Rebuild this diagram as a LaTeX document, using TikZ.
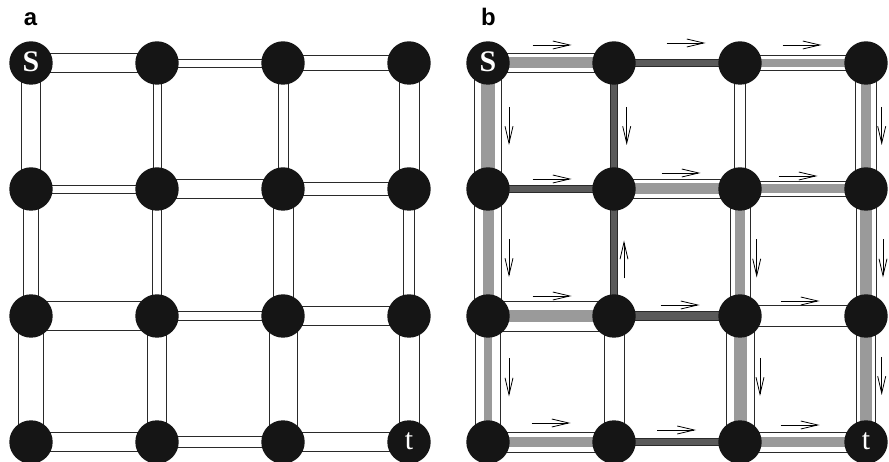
\documentclass[tikz,border=0pt]{standalone}
\usepackage{fontspec}
\setmainfont{Liberation Serif}
\newfontfamily\labfont{Liberation Sans}
\usetikzlibrary{arrows.meta,calc}
\pgfdeclarelayer{bg}
\pgfdeclarelayer{mid}
\pgfsetlayers{bg,mid,main}
\definecolor{nodefill}{HTML}{151515}
\definecolor{flowgray}{HTML}{9A9A9A}
\definecolor{satgray}{HTML}{5A5A5A}
\definecolor{edgeline}{HTML}{2A2A2A}
% pipes as outlined rectangles between node centres
\newcommand\HPipe[4][white]{\draw[pipebox, fill=#1] ($(#2)+(0,-#4/2)$) rectangle ($(#3)+(0,#4/2)$);}
\newcommand\VPipe[4][white]{\draw[pipebox, fill=#1] ($(#2)+(-#4/2,0)$) rectangle ($(#3)+(#4/2,0)$);}
\newcommand\HFlow[3]{\fill[flowgray] ($(#1)+(0,-#3/2)$) rectangle ($(#2)+(0,#3/2)$);}
\newcommand\VFlow[3]{\fill[flowgray] ($(#1)+(-#3/2,0)$) rectangle ($(#2)+(#3/2,0)$);}
\newcommand\HArr[4]{\draw[farrow] ($(#1)!0.5!(#2)+(#3-19.5,#4)$) -- ++(39,0);}
\newcommand\VArrD[4]{\draw[farrow] ($(#1)!0.5!(#2)+(#3,#4-19)$) -- ++(0,38);}
\newcommand\VArrU[4]{\draw[farrow] ($(#1)!0.5!(#2)+(#3,#4+19)$) -- ++(0,-38);}
\begin{document}
\begin{tikzpicture}[x=1bp,y=-1bp,
  vert/.style={circle, fill=nodefill, draw=none, minimum size=43.4bp, inner sep=0pt, text=white},
  pipebox/.style={draw=edgeline, line width=0.9bp},
  farrow/.style={line width=0.8bp, draw=black, -{Straight Barb[length=17bp,width=8bp]}},
  vlabel/.style={text=white, inner sep=0pt},
  panellabel/.style={anchor=base, font=\labfont\bfseries\fontsize{24}{24}\selectfont, inner sep=0pt}]
\useasboundingbox (0,0) rectangle (889,462);
\clip (0,0) rectangle (889,462);

% panel labels
\node[panellabel] (la) at (30.5,26) {a};
\node[panellabel] (lb) at (488.5,26) {b};

% vertices, panel a
\foreach \cc/\xx in {1/31,2/157,3/283,4/409}{
  \foreach \rr/\yy in {1/63,2/189,3/316,4/442}{
    \node[vert] (a\rr\cc) at (\xx,\yy) {};
  }
}
% vertices, panel b
\foreach \cc/\xx in {1/488,2/614,3/740,4/866}{
  \foreach \rr/\yy in {1/63,2/189,3/316,4/442}{
    \node[vert] (b\rr\cc) at (\xx,\yy) {};
  }
}
\node[vlabel, font=\bfseries\fontsize{30}{30}\selectfont] (sa) at ([yshift=1bp]a11) {S};
\node[vlabel, font=\bfseries\fontsize{30}{30}\selectfont] (sb) at ([yshift=1bp]b11) {S};
\node[vlabel, font=\fontsize{30}{30}\selectfont] (ta) at ([yshift=1bp]a44) {t};
\node[vlabel, font=\fontsize{30}{30}\selectfont] (tb) at ([yshift=1bp]b44) {t};

\begin{pgfonlayer}{bg}
% ---------- panel a pipes ----------
\HPipe{a11}{a12}{19.5}
\HPipe{a12}{a13}{8}
\HPipe{a13}{a14}{15}
\HPipe{a21}{a22}{8}
\HPipe{a22}{a23}{19.3}
\HPipe{a23}{a24}{13}
\HPipe{a31}{a32}{29}
\HPipe{a32}{a33}{9}
\HPipe{a33}{a34}{19.3}
\HPipe{a41}{a42}{19.3}
\HPipe{a42}{a43}{10.7}
\HPipe{a43}{a44}{19.3}
\VPipe{a11}{a21}{19}
\VPipe{a21}{a31}{15}
\VPipe{a31}{a41}{25}
\VPipe{a12}{a22}{8}
\VPipe{a22}{a32}{8.7}
\VPipe{a32}{a42}{19.3}
\VPipe{a13}{a23}{10}
\VPipe{a23}{a33}{20}
\VPipe{a33}{a43}{28}
\VPipe{a14}{a24}{20}
\VPipe{a24}{a34}{11.7}
\VPipe{a34}{a44}{20}
% ---------- panel b pipes ----------
\HPipe{b11}{b12}{19.7}
\HPipe[satgray]{b12}{b13}{7.5}
\HPipe{b13}{b14}{15.7}
\HPipe[satgray]{b21}{b22}{6.5}
\HPipe{b22}{b23}{19}
\HPipe{b23}{b24}{14.3}
\HPipe{b31}{b32}{30}
\HPipe[satgray]{b32}{b33}{8.3}
\HPipe{b33}{b34}{20.7}
\HPipe{b41}{b42}{20}
\HPipe[satgray]{b42}{b43}{7.3}
\HPipe{b43}{b44}{20}
\VPipe{b11}{b21}{27}
\VPipe{b21}{b31}{27}
\VPipe{b31}{b41}{25}
\VPipe[satgray]{b12}{b22}{6.3}
\VPipe[satgray]{b22}{b32}{6.3}
\VPipe{b32}{b42}{20}
\VPipe{b13}{b23}{11.7}
\VPipe{b23}{b33}{20}
\VPipe{b33}{b43}{28}
\VPipe{b14}{b24}{20.3}
\VPipe{b24}{b34}{20}
\VPipe{b34}{b44}{19.3}
\end{pgfonlayer}
\begin{pgfonlayer}{mid}
% flow bands
\HFlow{b11}{b12}{11}
\HFlow{b13}{b14}{8.3}
\HFlow{b22}{b23}{11}
\HFlow{b23}{b24}{9}
\HFlow{b31}{b32}{11.7}
\HFlow{b41}{b42}{9.3}
\HFlow{b43}{b44}{10.7}
\VFlow{b11}{b21}{14}
\VFlow{b21}{b31}{11}
\VFlow{b31}{b41}{8}
\VFlow{b23}{b33}{9.3}
\VFlow{b33}{b43}{13}
\VFlow{b14}{b24}{9.3}
\VFlow{b24}{b34}{11.7}
\VFlow{b34}{b44}{12}
\end{pgfonlayer}

% ---------- flow direction arrows ----------
\HArr{b11}{b12}{1}{-18}
\HArr{b12}{b13}{9}{-20}
\HArr{b13}{b14}{-1}{-18}
\HArr{b21}{b22}{1}{-10}
\HArr{b22}{b23}{4}{-16}
\HArr{b23}{b24}{-5}{-13}
\HArr{b31}{b32}{1}{-20}
\HArr{b32}{b33}{3}{-11}
\HArr{b33}{b34}{-3}{-15}
\HArr{b41}{b42}{0}{-19}
\HArr{b42}{b43}{-0.5}{-12}
\HArr{b43}{b44}{-3}{-17}
\VArrD{b11}{b21}{21}{0}
\VArrD{b21}{b31}{21}{5.5}
\VArrD{b31}{b41}{21}{-1.5}
\VArrD{b12}{b22}{12.7}{0}
\VArrU{b22}{b32}{10}{7}
\VArrD{b23}{b33}{16.7}{6}
\VArrD{b33}{b43}{20}{-2}
\VArrD{b14}{b24}{15.7}{0}
\VArrD{b24}{b34}{17}{6}
\VArrD{b34}{b44}{15.7}{-3}
\end{tikzpicture}
\end{document}
